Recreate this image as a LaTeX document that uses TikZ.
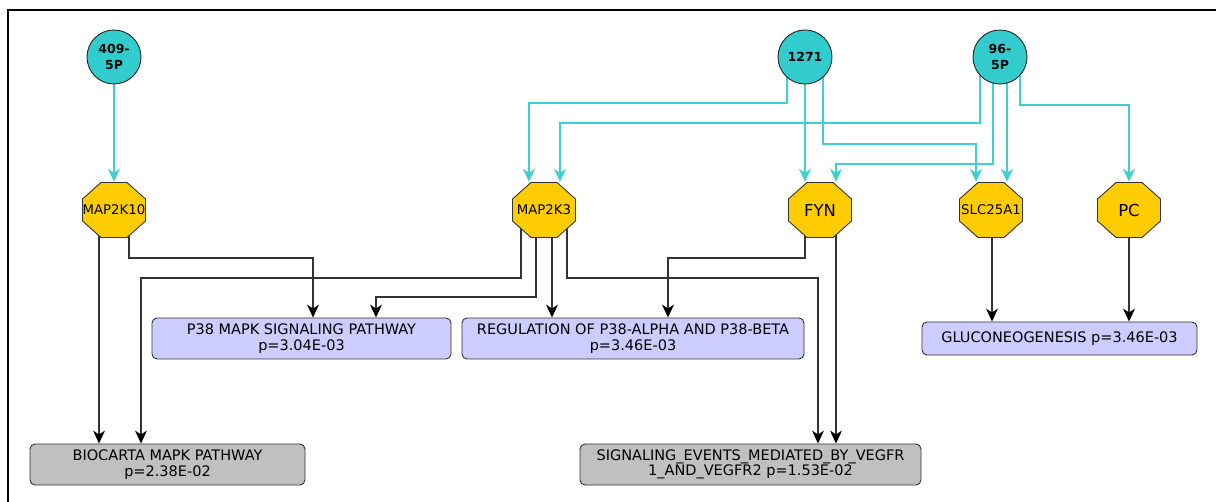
\documentclass[tikz,border=0pt]{standalone}
\usepackage{fontspec}
\setmainfont{DejaVu Sans}
\usetikzlibrary{arrows.meta,calc,backgrounds}
\definecolor{cyfill}{HTML}{33CCCC}
\definecolor{cyline}{HTML}{40D0D0}
\definecolor{octfill}{HTML}{FFCC00}
\definecolor{lav}{HTML}{CCCCFF}
\definecolor{grayb}{HTML}{C0C0C0}
\definecolor{edge}{HTML}{333333}
\newcommand\octoshape[1]{\filldraw[fill=octfill,draw=edge,line width=0.9pt,shift={(#1.center)}]
     (-13,-27.5) -- (13,-27.5) -- (31.5,-11) -- (31.5,11) -- (13,27.5) -- (-13,27.5) -- (-31.5,11) -- (-31.5,-11) -- cycle;}
\begin{document}
\begin{tikzpicture}[x=1pt,y=-1pt,
 src/.style={circle,draw=black!85,line width=0.9pt,fill=cyfill,minimum size=54pt,inner sep=0pt,font=\bfseries\fontsize{12.5}{15.5}\selectfont,align=center},
 gene/.style={rectangle,minimum width=64pt,minimum height=56pt,inner sep=0pt,font=\fontsize{13.3}{13}\selectfont},
 biggene/.style={gene,font=\fontsize{16.5}{16}\selectfont},
 term/.style={rectangle,rounded corners=5pt,draw=edge,line width=0.9pt,inner sep=0pt,minimum height=41pt,align=center,font=\fontsize{14.5}{15.5}\selectfont},
 lavbox/.style={term,fill=lav},
 graybox/.style={term,fill=grayb},
 cy/.style={draw=cyline,line width=1.4pt,-{Stealth[length=13pt,width=12pt,inset=4pt]}},
 bk/.style={draw=edge,line width=1.2pt,-{Stealth[length=13pt,width=12pt,inset=4pt,black]}},
]
\useasboundingbox (0,0) rectangle (1216,502);
% sources
\node[src] (c409) at (114,57) {409-\\5P};
\node[src] (c1271) at (805,57) {1271};
\node[src] (c96) at (1000,57) {96-\\5P};
% genes
\node[gene] (m10) at (114,210) {MAP2K10};
\node[gene] (m3) at (544,210) {MAP2K3};
\node[biggene] (fyn) at (820,210) {FYN};
\node[gene] (slc) at (991,210) {SLC25A1};
\node[biggene] (pc) at (1129,210) {PC};
% terms
\node[lavbox,minimum width=299pt] (p38) at (301.5,338.5) {P38 MAPK SIGNALING PATHWAY\\p=3.04E-03};
\node[graybox,minimum width=275pt] (bio) at (167.5,464.5) {BIOCARTA MAPK PATHWAY\\p=2.38E-02};
\node[lavbox,minimum width=342pt] (reg) at (633,338.5) {REGULATION OF P38-ALPHA AND P38-BETA\\p=3.46E-03};
\node[graybox,minimum width=341pt] (sig) at (750.5,464.5) {SIGNALING\_EVENTS\_MEDIATED\_BY\_VEGFR\\1\_AND\_VEGFR2 p=1.53E-02};
\node[lavbox,minimum width=275pt,minimum height=33pt] (glu) at (1059.5,338.5) {GLUCONEOGENESIS p=3.46E-03};
\begin{scope}[on background layer]
\draw[line width=2pt] (8,520) -- (8,10) -- (1230,10);
% cyan edges
\draw[cy] (c409.center) -- (m10.north);
\draw[cy] ($(c1271.center)+(-18,0)$) |- (529,103) -- ($(m3.north)+(-15,0)$);
\draw[cy] ($(c96.center)+(-20,0)$) |- (560,123) -- ($(m3.north)+(16,0)$);
\draw[cy] (c1271.center) -- ($(fyn.north)+(-15,0)$);
\draw[cy] ($(c1271.center)+(18,0)$) |- (976,144) -- ($(slc.north)+(-15,0)$);
\draw[cy] ($(c96.center)+(-7,0)$) |- (836,164) -- ($(fyn.north)+(16,0)$);
\draw[cy] ($(c96.center)+(7,0)$) -- ($(slc.north)+(16,0)$);
\draw[cy] ($(c96.center)+(20,0)$) |- (1129,105) -- (pc.north);
% black edges
\draw[bk] ($(m10.center)+(-15,0)$) -- ($(bio.north)+(-68.5,0)$);
\draw[bk] ($(m10.center)+(15,0)$) |- (313,258) -- ($(p38.north)+(11.5,0)$);
\draw[bk] ($(m3.center)+(-23,0)$) |- (141,278) -- ($(bio.north)+(-26.5,0)$);
\draw[bk] ($(m3.center)+(-8,0)$) |- (376,297) -- ($(p38.north)+(74.5,0)$);
\draw[bk] ($(m3.center)+(8,0)$) -- ($(reg.north)+(-81,0)$);
\draw[bk] ($(m3.center)+(23,0)$) |- (818,278) -- ($(sig.north)+(67.5,0)$);
\draw[bk] ($(fyn.center)+(-15,0)$) |- (668,258) -- ($(reg.north)+(35,0)$);
\draw[bk] ($(fyn.center)+(16,0)$) -- ($(sig.north)+(85.5,0)$);
\draw[bk] ($(slc.center)+(1,0)$) -- ($(glu.north)+(-67.5,0)$);
\draw[bk] (pc.center) -- ($(glu.north)+(69.5,0)$);
% octagon bodies over the edge starts
\octoshape{m10}
\octoshape{m3}
\octoshape{fyn}
\octoshape{slc}
\octoshape{pc}
\end{scope}
\end{tikzpicture}
\end{document}
